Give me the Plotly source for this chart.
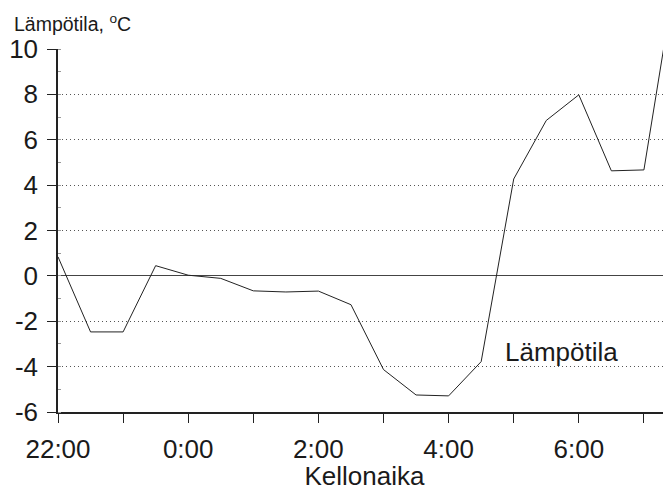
import plotly.graph_objects as go

times = ["22:00", "22:30", "23:00", "23:30", "0:00", "0:30", "1:00", "1:30",
         "2:00", "2:30", "3:00", "3:30", "4:00", "4:30", "5:00", "5:30",
         "6:00", "6:30", "7:00", "7:30"]
temps = [0.84, -2.47, -2.47, 0.45, 0.03, -0.11, -0.66, -0.71,
         -0.67, -1.27, -4.13, -5.25, -5.29, -3.78, 4.27, 6.85,
         7.98, 4.63, 4.67, 13.5]
tick_hours = ["22:00", "23:00", "0:00", "1:00", "2:00", "3:00", "4:00",
              "5:00", "6:00", "7:00"]
tick_labels = ["22:00", "", "0:00", "", "2:00", "", "4:00", "", "6:00", ""]
y_ticks = [-6, -4, -2, 0, 2, 4, 6, 8, 10]
y_tick_labels = ["-6", "-4", "-2", "0", "2", "4", "6", "8", "10"]


def hours_since_start(t, start="22:00"):
    h, m = map(int, t.split(":"))
    h0, m0 = map(int, start.split(":"))
    v = (h + m / 60) - (h0 + m0 / 60)
    return v + 24 if v < 0 else v


x = [hours_since_start(t) for t in times]
tx = [hours_since_start(t) for t in tick_hours]

FONT = "Liberation Sans, Arial, sans-serif"
TXT = "#1a1a1a"

fig = go.Figure()
fig.add_trace(go.Scatter(x=x, y=temps, mode="lines",
                         line=dict(color="#222222", width=1),
                         showlegend=False, hoverinfo="skip"))

# page has an 8px body margin, so the figure is 8px smaller and margins shifted
fig.update_layout(
    width=663, height=483,
    margin=dict(l=50, r=0, t=41, b=79),
    paper_bgcolor="white", plot_bgcolor="white",
    font=dict(family=FONT, size=26, color=TXT),
    showlegend=False,
)

fig.update_xaxes(
    automargin=False,
    range=[0, 9.416],
    tickvals=tx, ticktext=tick_labels,
    ticks="outside", ticklen=9, tickwidth=1.2, tickcolor="#222222",
    showline=True, linecolor="#222222", linewidth=2,
    showgrid=False, zeroline=False,
    tickfont=dict(size=26, family=FONT, color=TXT),
    ticklabelstandoff=4,
    title=dict(text="Kellonaika", font=dict(size=26, family=FONT, color=TXT),
               standoff=1),
)

fig.update_yaxes(
    automargin=False,
    range=[-6, 10],
    tickvals=y_ticks, ticktext=y_tick_labels,
    ticks="outside", ticklen=9, tickwidth=1.2, tickcolor="#222222",
    showline=True, linecolor="#222222", linewidth=1.5,
    showgrid=True, gridcolor="#555555", gridwidth=1, griddash="1px,3px",
    zeroline=True, zerolinecolor="#444444", zerolinewidth=1,
    tickfont=dict(size=26, family=FONT, color=TXT),
    ticklabelstandoff=4,
    minor=dict(dtick=1, ticks="inside", ticklen=3, tickcolor="#999999", showgrid=False),
)

fig.add_annotation(text="Lämpötila, <sup>o</sup>C", xref="paper", yref="paper",
                   x=(12 - 58) / 613, y=(412 - 23) / 363, xanchor="left", yanchor="middle",
                   showarrow=False, font=dict(size=19.5, family=FONT, color=TXT))

fig.add_annotation(text="Lämpötila", xref="paper", yref="paper",
                   x=(561 - 58) / 613, y=(412 - 352) / 363, xanchor="center", yanchor="middle",
                   showarrow=False, font=dict(size=26, family=FONT, color=TXT))

fig.write_html("out.html")
